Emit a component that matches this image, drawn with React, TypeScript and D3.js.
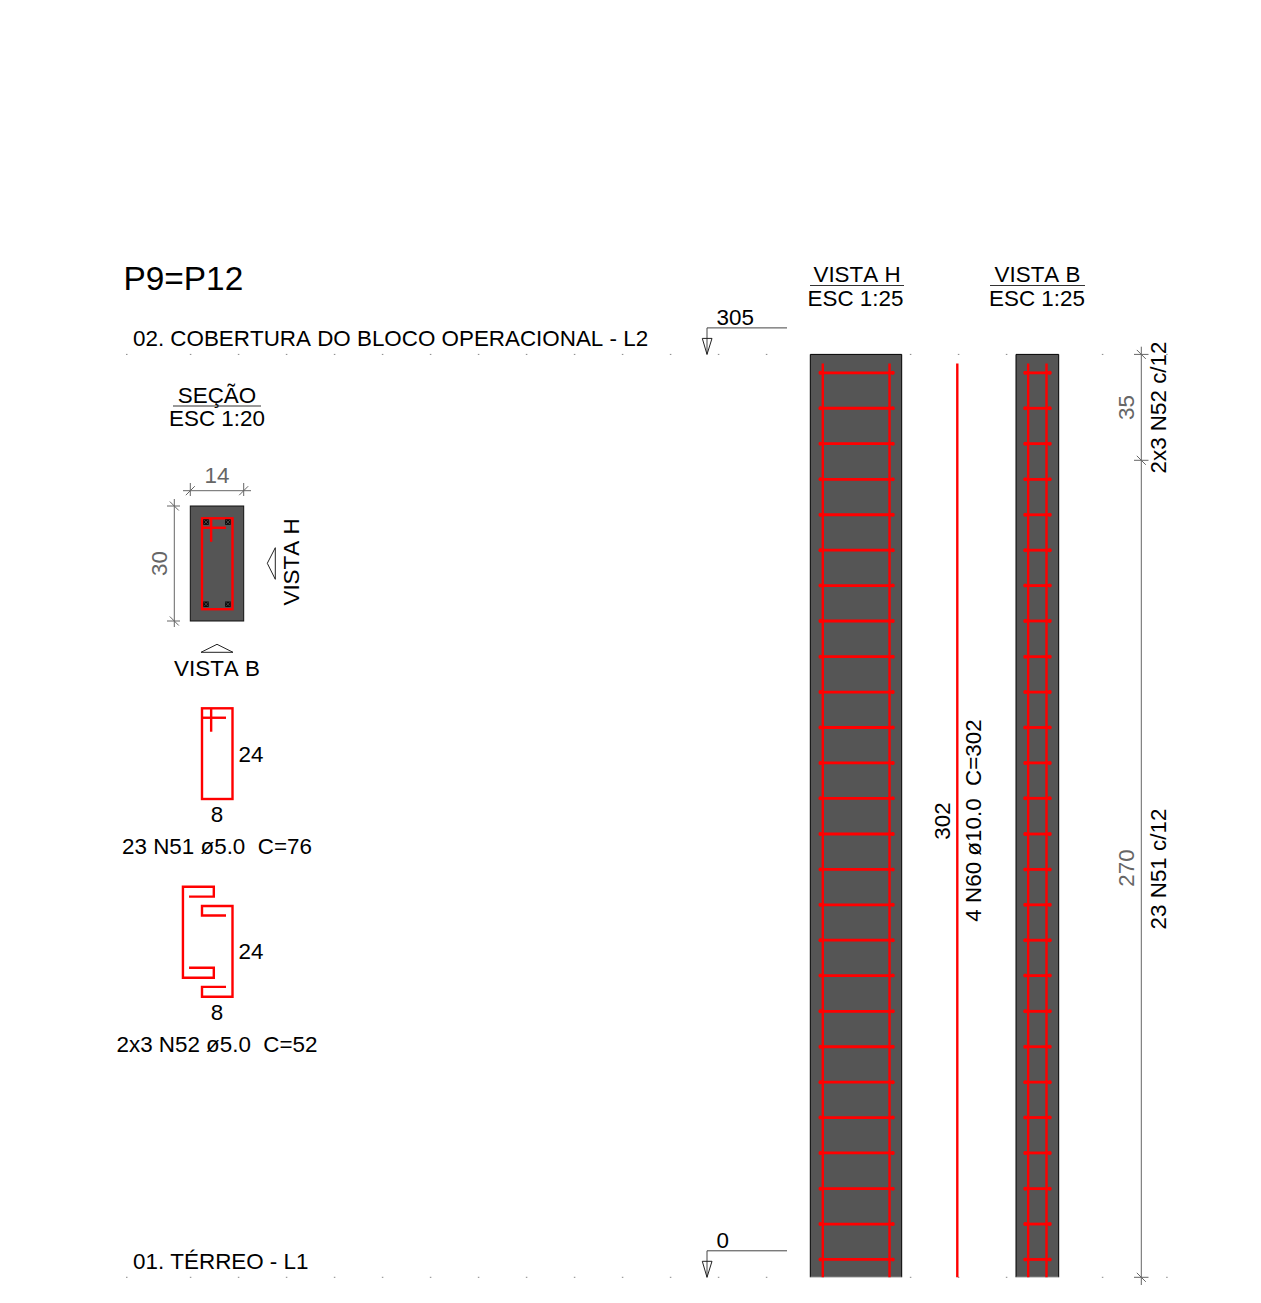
import React from 'react';
import * as d3 from 'd3';

const FONT = '"Liberation Sans", Arial, sans-serif';
const RED = '#ff0000';
const GREY = '#666666';

// elevations in cm
const stirrupLevels = [5.9, 17.6, 29.3, 41.1, 52.8, 64.5, 76.2, 87.9, 99.7, 111.4, 123.1, 134.8, 146.5, 158.3, 170.0, 181.7, 193.4, 205.1, 216.9, 228.6, 240.3, 252.0, 263.7, 275.5, 287.2, 298.9];
const barTop = 302;
const floorLevels = [0, 305];
const dimLevels = [0, 270, 305];
const levelDots = [0, 1.33, 2.33, 3.33, 4.33, 5.33, 6.33, 7.33, 8.33, 9.33, 10.33, 11.33, 12.33, 13.33, 16.33, 17.33, 18.33, 20.33, 21.67];

// view widths and bar offsets in cm
const viewHBars = [4.1, 26];
const viewHStirrup = [3, 27.4];
const viewBBars = [4, 10];
const viewBStirrup = [2.7, 11.4];

// stirrup shapes in cm, x across and y down
const n51Hook: [number, number][][] = [[[0, 2.5], [6.3, 2.5]], [[2.4, 0], [2.4, 6.2]]];
const n52Left: [number, number][] = [[-3.4, 2.6], [3.1, 2.6], [3.1, 0], [-5, 0], [-5, 23.8], [3.1, 23.8], [3.1, 21.2], [-3.4, 21.2]];
const n52Right: [number, number][] = [[6.3, 2.5], [0, 2.5], [0, 0], [8, 0], [8, 24], [0, 24], [0, 21.4], [6.3, 21.4]];
const sectionBars: [number, number][] = [[1.05, 1], [6.8, 1], [1.05, 22.7], [6.8, 22.7]];

const yLevel = d3.scaleLinear().domain([0, 305]).range([1277.3, 354.4]);
const xH = d3.scaleLinear().domain([0, 30]).range([810.3, 901.7]);
const xB = d3.scaleLinear().domain([0, 14]).range([1016, 1058.7]);
const xSection = d3.scaleLinear().domain([0, 14]).range([190.3, 243.7]);
const ySection = d3.scaleLinear().domain([0, 30]).range([506, 621]);
const xStirrup = d3.scaleLinear().domain([0, 8]).range([202, 232.5]);
const yStirrupSec = d3.scaleLinear().domain([0, 24]).range([518.3, 609.2]);
const yN51 = d3.scaleLinear().domain([0, 24]).range([708.3, 799]);
const yN52Left = d3.scaleLinear().domain([0, 24]).range([886.7, 978.5]);
const yN52Right = d3.scaleLinear().domain([0, 24]).range([906, 996.7]);
const xDots = d3.scaleLinear().domain([0, 1]).range([126, 174]);

const Txt = ({ x, y, size = 22.4, anchor = 'middle', fill = '#000', rot, children }: any) => (
  <text
    x={x}
    y={y}
    fontSize={size}
    fontFamily={FONT}
    textAnchor={anchor}
    fill={fill}
    style={{ whiteSpace: 'pre', fontKerning: 'none' }}
    transform={rot ? `rotate(-90 ${x} ${y})` : undefined}
  >
    {children}
  </text>
);

const pathOf = (pts: [number, number][], y: d3.ScaleLinear<number, number>) =>
  d3.line<[number, number]>().x(d => xStirrup(d[0])).y(d => y(d[1]))(pts)!;

const LevelMark = ({ level, label }: { level: number; label: string }) => {
  const y = yLevel(level);
  return (
    <g>
      <path d={`M787,${y - 26.5}H707V${y}`} fill="none" stroke="#444" strokeWidth={1} />
      <path d={`M702.3,${y - 16}H712L707,${y}Z`} fill="none" stroke="#222" strokeWidth={1} />
      <Txt x={716.5} y={y - 29} anchor="start">{label}</Txt>
    </g>
  );
};

const View = ({ x, bars, stirrup, span }: any) => (
  <g>
    <rect x={x(0)} y={yLevel(305)} width={x(span) - x(0)} height={yLevel(0) - yLevel(305)} fill="#555555" />
    <path d={`M${x(0)},${yLevel(0)}V${yLevel(305)}H${x(span)}V${yLevel(0)}`} fill="none" stroke="#000" strokeWidth={1} />
    <line x1={x(0)} x2={x(span)} y1={yLevel(0)} y2={yLevel(0)} stroke="#ccc" strokeWidth={1} />
    {bars.map((b: number) => (
      <line key={b} x1={x(b)} x2={x(b)} y1={yLevel(barTop)} y2={yLevel(0)} stroke={RED} strokeWidth={2.4} />
    ))}
    {stirrupLevels.map(l => (
      <g key={l}>
        <line x1={x(stirrup[0])} x2={x(stirrup[1])} y1={yLevel(l)} y2={yLevel(l)} stroke={RED} strokeWidth={2.8} />
        {bars.map((b: number, i: number) => (
          <circle key={b} cx={x(stirrup[i]) + (i ? -1 : 1)} cy={yLevel(l)} r={2} fill={RED} />
        ))}
      </g>
    ))}
  </g>
);

export default function App() {
  return (
    <svg width={1261} height={1303} style={{ position: 'absolute', left: 0, top: 0 }}>
      <rect width={1261} height={1303} fill="#fff" />

      {/* level lines */}
      {floorLevels.map(l => (
        <g key={l}>
          {levelDots.map(d => (
            <rect key={d} x={xDots(d)} y={yLevel(l) - 0.5} width={1.5} height={1} fill="#888" />
          ))}
        </g>
      ))}

      <Txt x={123.5} y={290} size={33.4} anchor="start">P9=P12</Txt>
      <Txt x={133} y={346} anchor="start">02. COBERTURA DO BLOCO OPERACIONAL - L2</Txt>
      <Txt x={133} y={1269} anchor="start">01. TÉRREO - L1</Txt>

      <LevelMark level={305} label="305" />
      <LevelMark level={0} label="0" />

      <Txt x={217} y={403}>SEÇÃO</Txt>
      <line x1={173} x2={261} y1={406} y2={406} stroke="#333" />
      <Txt x={217} y={426}>ESC 1:20</Txt>

      <Txt x={857} y={282}>VISTA H</Txt>
      <line x1={810} x2={904} y1={285.5} y2={285.5} stroke="#333" />
      <Txt x={855.5} y={306}>ESC 1:25</Txt>
      <Txt x={1037.5} y={282}>VISTA B</Txt>
      <line x1={990} x2={1085} y1={285.5} y2={285.5} stroke="#333" />
      <Txt x={1037} y={306}>ESC 1:25</Txt>

      {/* section */}
      <rect x={xSection(0)} y={ySection(0)} width={xSection(14) - xSection(0)} height={ySection(30) - ySection(0)} fill="#555555" stroke="#111" strokeWidth={1} />
      <rect x={xStirrup(0)} y={yStirrupSec(0)} width={xStirrup(8) - xStirrup(0)} height={yStirrupSec(24) - yStirrupSec(0)} fill="none" stroke={RED} strokeWidth={2.4} />
      {n51Hook.map((h, i) => <path key={i} d={pathOf(h, yStirrupSec)} fill="none" stroke={RED} strokeWidth={2.4} />)}
      {sectionBars.map((b, i) => {
        const cx = xStirrup(b[0]);
        const cy = yStirrupSec(b[1]);
        return (
          <g key={i}>
            <rect x={cx - 2.8} y={cy - 2.8} width={5.6} height={5.6} fill="#0a0a0a" />
            <path d={`M${cx - 2},${cy - 2}L${cx + 2},${cy + 2}M${cx - 2},${cy + 2}L${cx + 2},${cy - 2}`} stroke="#555" strokeWidth={0.8} />
          </g>
        );
      })}

      {/* section dimensions */}
      <g stroke={GREY} strokeWidth={1} fill="none">
        <line x1={183} x2={251} y1={490.7} y2={490.7} />
        {[0, 14].map(v => (
          <path key={v} d={`M${xSection(v)},483V496M${xSection(v) - 4.5},495.2L${xSection(v) + 4.5},486.2`} />
        ))}
        <line x1={174.3} x2={174.3} y1={499} y2={627} />
        {[0, 30].map(v => (
          <path key={v} d={`M167,${ySection(v)}H180M169.8,${ySection(v) - 4.5}L178.8,${ySection(v) + 4.5}`} />
        ))}
      </g>
      <Txt x={217} y={483} fill={GREY}>14</Txt>
      <Txt x={166.5} y={563.5} fill={GREY} rot>30</Txt>

      <Txt x={299} y={562} rot>VISTA H</Txt>
      <path d="M275.3,547.7L267.3,563.3L275.3,579.3Z" fill="none" stroke="#222" />
      <path d="M201,652.3L217,644.3L233,652.3Z" fill="none" stroke="#222" />
      <Txt x={217} y={676}>VISTA B</Txt>

      {/* N51 */}
      <rect x={xStirrup(0)} y={yN51(0)} width={xStirrup(8) - xStirrup(0)} height={yN51(24) - yN51(0)} fill="none" stroke={RED} strokeWidth={2.4} />
      {n51Hook.map((h, i) => <path key={i} d={pathOf(h, yN51)} fill="none" stroke={RED} strokeWidth={2.4} />)}
      <Txt x={238.5} y={762} anchor="start">24</Txt>
      <Txt x={217} y={822}>8</Txt>
      <Txt x={217} y={854}>23 N51 ø5.0  C=76</Txt>

      {/* N52 */}
      <path d={pathOf(n52Left, yN52Left)} fill="none" stroke={RED} strokeWidth={2.4} />
      <path d={pathOf(n52Right, yN52Right)} fill="none" stroke={RED} strokeWidth={2.4} />
      <Txt x={238.5} y={959} anchor="start">24</Txt>
      <Txt x={217} y={1020}>8</Txt>
      <Txt x={217} y={1052}>2x3 N52 ø5.0  C=52</Txt>

      {/* elevations */}
      <View x={xH} bars={viewHBars} stirrup={viewHStirrup} span={30} />
      <View x={xB} bars={viewBBars} stirrup={viewBStirrup} span={14} />

      {/* loose bar N60 */}
      <line x1={957.3} x2={957.3} y1={yLevel(barTop)} y2={yLevel(0)} stroke={RED} strokeWidth={2.4} />
      <Txt x={950} y={821} rot>302</Txt>
      <Txt x={981} y={820.5} rot>4 N60 ø10.0  C=302</Txt>

      {/* right dimension */}
      <g stroke={GREY} strokeWidth={1} fill="none">
        <line x1={1141.3} x2={1141.3} y1={346.7} y2={1285} />
        {dimLevels.map(l => (
          <path key={l} d={`M1134,${yLevel(l)}H1148.5M1136.8,${yLevel(l) - 4.5}L1145.8,${yLevel(l) + 4.5}`} />
        ))}
      </g>
      <Txt x={1133.5} y={407.5} fill={GREY} rot>35</Txt>
      <Txt x={1133.5} y={868} fill={GREY} rot>270</Txt>
      <Txt x={1166} y={407.5} rot>2x3 N52 c/12</Txt>
      <Txt x={1166} y={869} rot>23 N51 c/12</Txt>
    </svg>
  );
}
